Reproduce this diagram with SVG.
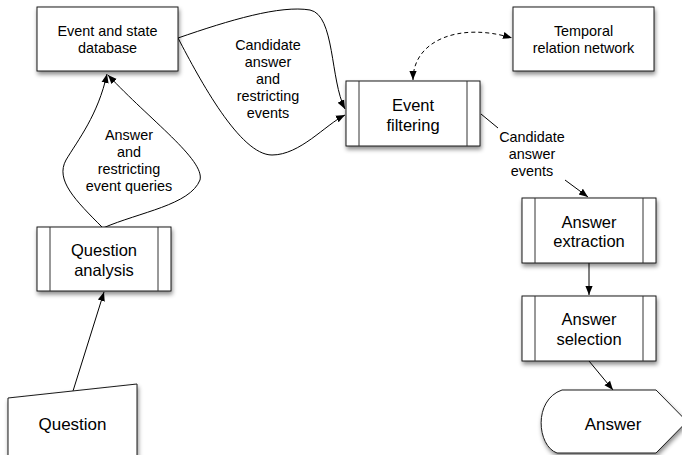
<svg xmlns="http://www.w3.org/2000/svg" width="682" height="455" viewBox="0 0 682 455">
<style>
.box{fill:#fff;stroke:#1a1a1a;stroke-width:1}
.inner{fill:none;stroke:#333;stroke-width:1}
.t{font-family:"Liberation Sans",Arial,sans-serif;fill:#000;text-anchor:middle}
.s{font-size:14.4px}
.b{font-size:16.5px}
.c{fill:none;stroke:#000;stroke-width:1}
</style>
<defs>
<filter id="sh" x="-20%" y="-20%" width="140%" height="150%">
<feDropShadow dx="1" dy="3" stdDeviation="2.2" flood-color="#000" flood-opacity="0.45"/>
</filter>
<marker id="ah" viewBox="0 0 10 10" refX="10" refY="5" markerWidth="9" markerHeight="9" markerUnits="userSpaceOnUse" orient="auto-start-reverse">
<path d="M0,1 L10,5 L0,9 Z" fill="#000"/>
</marker>
</defs>
<g id="connectors">
<path class="c" d="M103,228 C75,200 55,180 66,160 C78,140 98,115 107,74" marker-end="url(#ah)"/>
<path class="c" d="M103,228 C140,212 190,205 200,180 C205,160 150,120 108,75" marker-end="url(#ah)"/>
<path class="c" d="M178,38 C230,20 280,5 310,10 C335,15 330,80 345,109" marker-end="url(#ah)"/>
<path class="c" d="M178,38 C200,80 240,155 272,155 C300,155 325,125 345,115" marker-end="url(#ah)"/>
<path class="c" d="M413,80 C413,40 460,22 512,38" stroke-dasharray="4,3" marker-start="url(#ah)" marker-end="url(#ah)"/>
<path class="c" d="M481,114 L498,128"/>
<path class="c" d="M565,180 L588,197" marker-end="url(#ah)"/>
<path class="c" d="M589,263 L589,295" marker-end="url(#ah)"/>
<path class="c" d="M589,361 L613,390" marker-end="url(#ah)"/>
<path class="c" d="M73,391 L104,292" marker-end="url(#ah)"/>
<text class="t s" x="129" y="140">Answer</text>
<text class="t s" x="129" y="157">and</text>
<text class="t s" x="129" y="174">restricting</text>
<text class="t s" x="129" y="191">event queries</text>
<text class="t s" x="268" y="49.5">Candidate</text>
<text class="t s" x="268" y="66.7">answer</text>
<text class="t s" x="268" y="84">and</text>
<text class="t s" x="268" y="101.2">restricting</text>
<text class="t s" x="268" y="118.4">events</text>
<text class="t s" x="532" y="141.5">Candidate</text>
<text class="t s" x="532" y="158.5">answer</text>
<text class="t s" x="532" y="175.5">events</text>
</g>
<g id="event-db">
<rect class="box" filter="url(#sh)" x="37" y="7" width="141" height="64"/>
<text class="t s" x="107.5" y="35.5">Event and state</text>
<text class="t s" x="107.5" y="53">database</text>
</g>
<g id="temporal-network">
<rect class="box" filter="url(#sh)" x="513" y="7" width="141" height="64"/>
<text class="t s" x="583.5" y="35.5">Temporal</text>
<text class="t s" x="583.5" y="53">relation network</text>
</g>
<g id="event-filtering">
<rect class="box" filter="url(#sh)" x="346" y="81" width="134" height="65"/>
<line class="inner" x1="359" y1="81" x2="359" y2="146"/>
<line class="inner" x1="467" y1="81" x2="467" y2="146"/>
<text class="t b" x="413" y="110.5">Event</text>
<text class="t b" x="413" y="130.5">filtering</text>
</g>
<g id="question-analysis">
<rect class="box" filter="url(#sh)" x="37" y="227" width="134" height="64"/>
<line class="inner" x1="50" y1="227" x2="50" y2="291"/>
<line class="inner" x1="158" y1="227" x2="158" y2="291"/>
<text class="t b" x="104" y="256">Question</text>
<text class="t b" x="104" y="276">analysis</text>
</g>
<g id="answer-extraction">
<rect class="box" filter="url(#sh)" x="522" y="198" width="134" height="65"/>
<line class="inner" x1="535" y1="198" x2="535" y2="263"/>
<line class="inner" x1="643" y1="198" x2="643" y2="263"/>
<text class="t b" x="589" y="228.3">Answer</text>
<text class="t b" x="589" y="247.3">extraction</text>
</g>
<g id="answer-selection">
<rect class="box" filter="url(#sh)" x="522" y="296" width="134" height="65"/>
<line class="inner" x1="535" y1="296" x2="535" y2="361"/>
<line class="inner" x1="643" y1="296" x2="643" y2="361"/>
<text class="t b" x="589" y="325">Answer</text>
<text class="t b" x="589" y="345">selection</text>
</g>
<g id="question">
<path class="box" filter="url(#sh)" d="M8,398 L137,384 L137,460 L8,460 Z"/>
<text class="t" style="font-size:17px" x="72.5" y="429.5">Question</text>
</g>
<g id="answer">
<path class="box" filter="url(#sh)" d="M562,390 L656,390 L687,421.5 L656,453 L557,453 C537,446 533,400 562,390 Z"/>
<text class="t" style="font-size:17px" x="613" y="430">Answer</text>
</g>
</svg>
